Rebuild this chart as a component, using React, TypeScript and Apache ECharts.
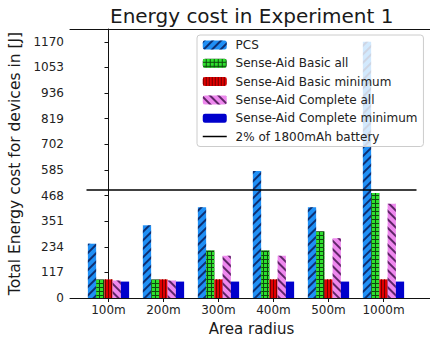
import React, { useEffect, useRef } from "react";
import * as echarts from "echarts";

const categories = ["100m", "200m", "300m", "400m", "500m", "1000m"];
const pcs = [248, 332, 414, 580, 414, 1170];
const basicAll = [85, 85, 217, 217, 305, 480];
const basicMin = [85, 85, 85, 85, 85, 85];
const completeAll = [80, 80, 193, 193, 273, 430];
const completeMin = [75, 75, 75, 75, 75, 75];
const batteryLevel = 493;
const batteryLineX = [-0.4, 5.6];
const yTicks = [0, 117, 234, 351, 468, 585, 702, 819, 936, 1053, 1170];
const xTicks = [0, 1, 2, 3, 4, 5];

const FONT = "DejaVu Sans";

export default function App() {
  const ref = useRef<HTMLDivElement>(null);
  useEffect(() => {
    if (!ref.current) return;
    const chart = echarts.init(ref.current, undefined, { renderer: "svg" });
    const toPts = (arr: number[]) => arr.map((v, i) => [xTicks[i], v]);
    const barBase = { type: "bar", barWidth: 8.25, barGap: "0%", xAxisIndex: 0, yAxisIndex: 0 };
    const option: any = {
      animation: false,
      backgroundColor: "#ffffff",
      title: {
        text: "Energy cost in Experiment 1",
        left: 110,
        top: 6,
        padding: 0,
        textStyle: { fontFamily: FONT, fontSize: 20, fontWeight: "normal", color: "#1a1a1a" },
      },
      grid: { left: 70, top: 29, width: 363, bottom: 39, outerBoundsMode: "none" },
      legend: {
        orient: "vertical",
        left: 197,
        top: 35,
        padding: [3, 6, 3, 5],
        itemWidth: 24,
        itemHeight: 9,
        itemGap: 4.3,
        borderColor: "#cccccc",
        borderWidth: 1,
        borderRadius: 3,
        backgroundColor: "rgba(255,255,255,0.8)",
        formatter: " {name}",
        textStyle: { fontFamily: FONT, fontSize: 12, color: "#222", lineHeight: 14 },
        data: [
          "PCS",
          "Sense-Aid Basic all",
          "Sense-Aid Basic minimum",
          "Sense-Aid Complete all",
          "Sense-Aid Complete minimum",
          {
            name: "2% of 1800mAh battery",
            itemStyle: { color: "rgba(0,0,0,0)", borderColor: "rgba(0,0,0,0)", borderWidth: 0 },
            lineStyle: { color: "#000", width: 1.5 },
          },
        ],
      },
      xAxis: [
        {
          type: "value",
          min: -0.7,
          max: 5.9,
          position: "bottom",
          axisLine: { show: true, lineStyle: { color: "#111", width: 1 } },
          axisTick: { show: true, customValues: xTicks, length: 4, lineStyle: { color: "#111" } },
          axisLabel: {
            customValues: xTicks,
            formatter: (v: number) => categories[Math.round(v)] ?? "",
            fontFamily: FONT,
            fontSize: 12,
            color: "#222",
            margin: 6,
          },
          splitLine: { show: false },
          name: "Area radius",
          nameLocation: "middle",
          nameGap: 23,
          nameTextStyle: { fontFamily: FONT, fontSize: 15, color: "#1a1a1a" },
        },
        {
          type: "value",
          min: -0.7,
          max: 5.9,
          position: "top",
          axisLine: { show: true, lineStyle: { color: "#111", width: 1 } },
          axisTick: { show: false },
          axisLabel: { show: false },
          splitLine: { show: false },
        },
      ],
      yAxis: {
        type: "value",
        min: 0,
        max: 1228.5,
        axisLine: { show: true, lineStyle: { color: "#111", width: 1 } },
        axisTick: { show: true, customValues: yTicks, length: 4, lineStyle: { color: "#111" } },
        axisLabel: {
          customValues: yTicks,
          formatter: (v: number) => String(v),
          fontFamily: FONT,
          fontSize: 12,
          color: "#222",
          margin: 6,
        },
        splitLine: { show: false },
        name: "Total Energy cost for devices in [J]",
        nameLocation: "middle",
        nameGap: 42,
        nameTextStyle: { fontFamily: FONT, fontSize: 15.5, color: "#1a1a1a" },
      },
      series: [
        {
          ...barBase,
          name: "PCS",
          data: toPts(pcs),
          itemStyle: {
            color: "#1f8ff5",
            decal: {
              symbol: "rect",
              symbolSize: 1,
              color: "rgba(10,30,90,0.85)",
              dashArrayX: [1, 0],
              dashArrayY: [1.6, 4],
              rotation: -Math.PI / 4,
            },
          },
        },
        {
          ...barBase,
          name: "Sense-Aid Basic all",
          data: toPts(basicAll),
          itemStyle: {
            color: "#0d4a0d",
            decal: {
              symbol: "rect",
              symbolSize: 1,
              color: "#2ee02e",
              dashArrayX: [2.2, 0.9],
              dashArrayY: [2.2, 0.9],
              rotation: 0,
            },
          },
        },
        {
          ...barBase,
          name: "Sense-Aid Basic minimum",
          data: toPts(basicMin),
          itemStyle: {
            color: "#e00000",
            decal: {
              symbol: "rect",
              symbolSize: 1,
              color: "#700000",
              dashArrayX: [1, 2],
              dashArrayY: [1, 0],
              rotation: 0,
            },
          },
        },
        {
          ...barBase,
          name: "Sense-Aid Complete all",
          data: toPts(completeAll),
          itemStyle: {
            color: "#ee88ee",
            decal: {
              symbol: "rect",
              symbolSize: 1,
              color: "rgba(70,20,80,0.85)",
              dashArrayX: [1, 0],
              dashArrayY: [1.6, 4],
              rotation: Math.PI / 4,
            },
          },
        },
        {
          ...barBase,
          name: "Sense-Aid Complete minimum",
          data: toPts(completeMin),
          itemStyle: { color: "#0000cc" },
        },
        {
          type: "line",
          name: "2% of 1800mAh battery",
          xAxisIndex: 0,
          yAxisIndex: 0,
          data: batteryLineX.map((x) => [x, batteryLevel]),
          symbol: "none",
          lineStyle: { color: "#000", width: 1.5 },
          itemStyle: { color: "#000" },
          z: 3,
        },
      ],
    };
    chart.setOption(option);
    return () => chart.dispose();
  }, []);
  return (
    <div
      ref={ref}
      style={{ position: "fixed", left: 0, top: 0, width: 430, height: 337, background: "#fff" }}
    />
  );
}
